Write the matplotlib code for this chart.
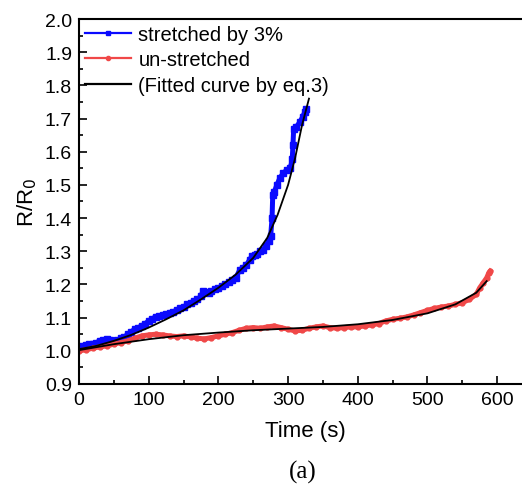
import numpy as np
import matplotlib
matplotlib.use("Agg")
import matplotlib.pyplot as plt

plt.rcParams['font.family'] = ['Liberation Sans', 'DejaVu Sans']

# stretched by 3% (measured)
t_str = [0, 5, 10, 15, 20, 25, 30, 35, 40, 45, 50, 55, 60, 65, 70, 75, 80, 85, 90, 95,
         100, 105, 110, 115, 120, 125, 130, 135, 140, 145, 150, 155, 160, 165, 170, 175,
         178, 182, 186, 190, 195, 200, 205, 210, 215, 220, 225, 231, 235, 240, 245, 248,
         252, 256, 260, 264, 268, 272, 275, 277, 278, 280, 284, 288, 293, 298, 303, 306,
         307, 308, 312, 317, 321, 324, 326]
r_str = [1.010, 1.015, 1.018, 1.020, 1.022, 1.025, 1.030, 1.032, 1.035, 1.033, 1.030, 1.032,
         1.038, 1.042, 1.050, 1.058, 1.065, 1.070, 1.075, 1.082, 1.090, 1.097, 1.102, 1.105,
         1.108, 1.110, 1.115, 1.118, 1.122, 1.128, 1.132, 1.140, 1.145, 1.150, 1.155, 1.165,
         1.180, 1.178, 1.175, 1.180, 1.185, 1.190, 1.195, 1.200, 1.208, 1.212, 1.220, 1.245,
         1.250, 1.258, 1.275, 1.285, 1.288, 1.292, 1.300, 1.305, 1.315, 1.330, 1.345, 1.400,
         1.470, 1.478, 1.500, 1.520, 1.535, 1.545, 1.550, 1.578, 1.620, 1.668, 1.675, 1.690,
         1.705, 1.720, 1.728]

# un-stretched (measured)
t_un = [0, 10, 20, 30, 40, 50, 60, 70, 80, 90, 100, 110, 120, 130, 140, 150, 160, 170, 180,
        190, 200, 210, 220, 230, 240, 250, 260, 270, 280, 290, 300, 310, 320, 330, 340, 350,
        360, 370, 380, 390, 400, 410, 420, 430, 440, 450, 460, 470, 480, 490, 500, 510, 520,
        530, 540, 550, 560, 570, 575, 580, 585, 588, 590]
r_un = [1.000, 1.003, 1.008, 1.012, 1.015, 1.020, 1.025, 1.030, 1.038, 1.045, 1.048, 1.050,
        1.048, 1.045, 1.043, 1.045, 1.042, 1.038, 1.036, 1.040, 1.045, 1.050, 1.055, 1.062,
        1.068, 1.070, 1.068, 1.072, 1.075, 1.070, 1.065, 1.060, 1.062, 1.068, 1.072, 1.075,
        1.070, 1.068, 1.070, 1.072, 1.072, 1.075, 1.078, 1.082, 1.090, 1.095, 1.098, 1.102,
        1.108, 1.115, 1.122, 1.128, 1.132, 1.135, 1.140, 1.145, 1.155, 1.170, 1.190, 1.205,
        1.220, 1.235, 1.240]

# fitted curves (eq.3)
t_fit_str = [0, 25, 50, 75, 100, 125, 150, 175, 200, 225, 250, 270, 285, 300, 310, 320, 330]
r_fit_str = [1.005, 1.015, 1.030, 1.048, 1.070, 1.095, 1.122, 1.155, 1.190, 1.230, 1.280,
             1.340, 1.410, 1.500, 1.580, 1.680, 1.760]
t_fit_un = [0, 50, 100, 150, 200, 250, 300, 350, 400, 450, 500, 540, 570, 585]
r_fit_un = [1.002, 1.020, 1.035, 1.047, 1.055, 1.062, 1.067, 1.072, 1.080, 1.093, 1.113,
            1.140, 1.175, 1.210]

fig = plt.figure(figsize=(5.22, 4.85), dpi=100)
ax = fig.add_axes([79 / 522, 100 / 485, 453 / 522, 365 / 485])

ax.plot(t_str, r_str, color='#0a0aff', lw=3.6, marker='s', ms=4, label='stretched by 3%')
ax.plot(t_un, r_un, color='#f04848', lw=3.6, marker='o', ms=3.5, label='un-stretched')
ax.plot(t_fit_str, r_fit_str, color='black', lw=1.3, label='(Fitted curve by eq.3)')
ax.plot(t_fit_un, r_fit_un, color='black', lw=1.3)

ax.set_xlim(0, 650)
ax.set_ylim(0.9, 2.0)
ax.set_xticks(np.arange(0, 601, 100))
ax.set_xticks(np.arange(50, 651, 100), minor=True)
ax.set_yticks(np.arange(0.9, 2.01, 0.1))
ax.set_yticks(np.arange(0.95, 2.0, 0.1), minor=True)
ax.yaxis.set_major_formatter(matplotlib.ticker.FormatStrFormatter('%.1f'))
ax.tick_params(which='both', direction='in', labelsize=14, width=1.2)
ax.tick_params(which='major', length=6)
ax.tick_params(which='minor', length=3)
ax.tick_params(axis='x', pad=5)
ax.tick_params(axis='y', pad=5)
for s in ax.spines.values():
    s.set_linewidth(1.5)

ax.set_xlabel('Time (s)', fontsize=16, labelpad=9)
ax.set_ylabel('R/R$_0$', fontsize=16, labelpad=4)

leg = ax.legend(loc='upper left', frameon=False, fontsize=14.5, handlelength=2.3,
                handletextpad=0.35, borderaxespad=0.1, labelspacing=0.32,
                borderpad=0.2, numpoints=1)
for h in leg.get_lines():
    h.set_linewidth(1.6)
    h.set_markersize(3)

fig.text(303 / 522, 1 - 472 / 485, '(a)', family='Liberation Serif',
         fontsize=18, ha='center', va='center')

fig.savefig('out.png', dpi=100)
